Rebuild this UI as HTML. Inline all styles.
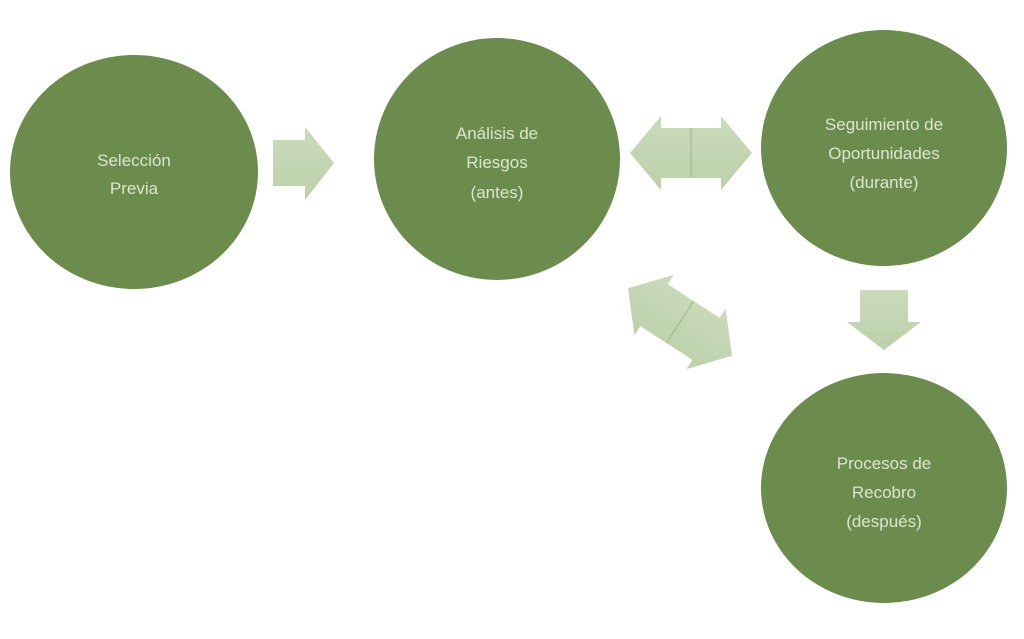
<!DOCTYPE html>
<html><head><meta charset="utf-8"><style>
html,body{margin:0;padding:0;background:#fff;}
svg{display:block;}
text{font-family:"Liberation Sans","DejaVu Sans",sans-serif;font-size:17px;fill:#dbe6cf;text-anchor:middle;}
</style></head><body>
<svg width="1024" height="639" viewBox="0 0 1024 639">
<defs>
<linearGradient id="g" x1="0" y1="0" x2="0" y2="1"><stop offset="0" stop-color="#cadbbb"/><stop offset="1" stop-color="#bcd0aa"/></linearGradient>
</defs>
<ellipse cx="134" cy="172" rx="124" ry="117" fill="#6b8c4c"/>
<ellipse cx="497" cy="159" rx="123" ry="121" fill="#6b8c4c"/>
<ellipse cx="884" cy="148" rx="123" ry="118" fill="#6b8c4c"/>
<ellipse cx="884" cy="488" rx="123" ry="115" fill="#6b8c4c"/>

<!-- right arrow -->
<polygon points="273,140 305,140 305,127 334,163 305,200 305,186 273,186" fill="url(#g)"/>
<!-- double horizontal -->
<g transform="translate(691,153)">
<polygon points="-61,0 -30,-37 -30,-25 30,-25 30,-37 61,0 30,37 30,25 -30,25 -30,37" fill="url(#g)"/>
<line x1="0" y1="-25" x2="0" y2="25" stroke="#a9c093" stroke-width="1.5"/>
</g>
<!-- diagonal double -->
<g transform="translate(680,322) rotate(33)">
<polygon points="-62,0 -31,-36 -31,-25 31,-25 31,-36 62,0 31,36 31,25 -31,25 -31,36" fill="url(#g)"/>
<line x1="0" y1="-25" x2="0" y2="25" stroke="#a9c093" stroke-width="1.5"/>
</g>
<!-- down arrow -->
<polygon points="860,290 908,290 908,322 921,322 884,350 847,322 860,322" fill="url(#g)"/>

<text x="134" y="166">Selección</text>
<text x="134" y="194">Previa</text>
<text x="497" y="139">Análisis de</text>
<text x="497" y="168">Riesgos</text>
<text x="497" y="198">(antes)</text>
<text x="884" y="130">Seguimiento de</text>
<text x="884" y="159">Oportunidades</text>
<text x="884" y="188">(durante)</text>
<text x="884" y="469">Procesos de</text>
<text x="884" y="498">Recobro</text>
<text x="884" y="527">(después)</text>
</svg>
</body></html>
